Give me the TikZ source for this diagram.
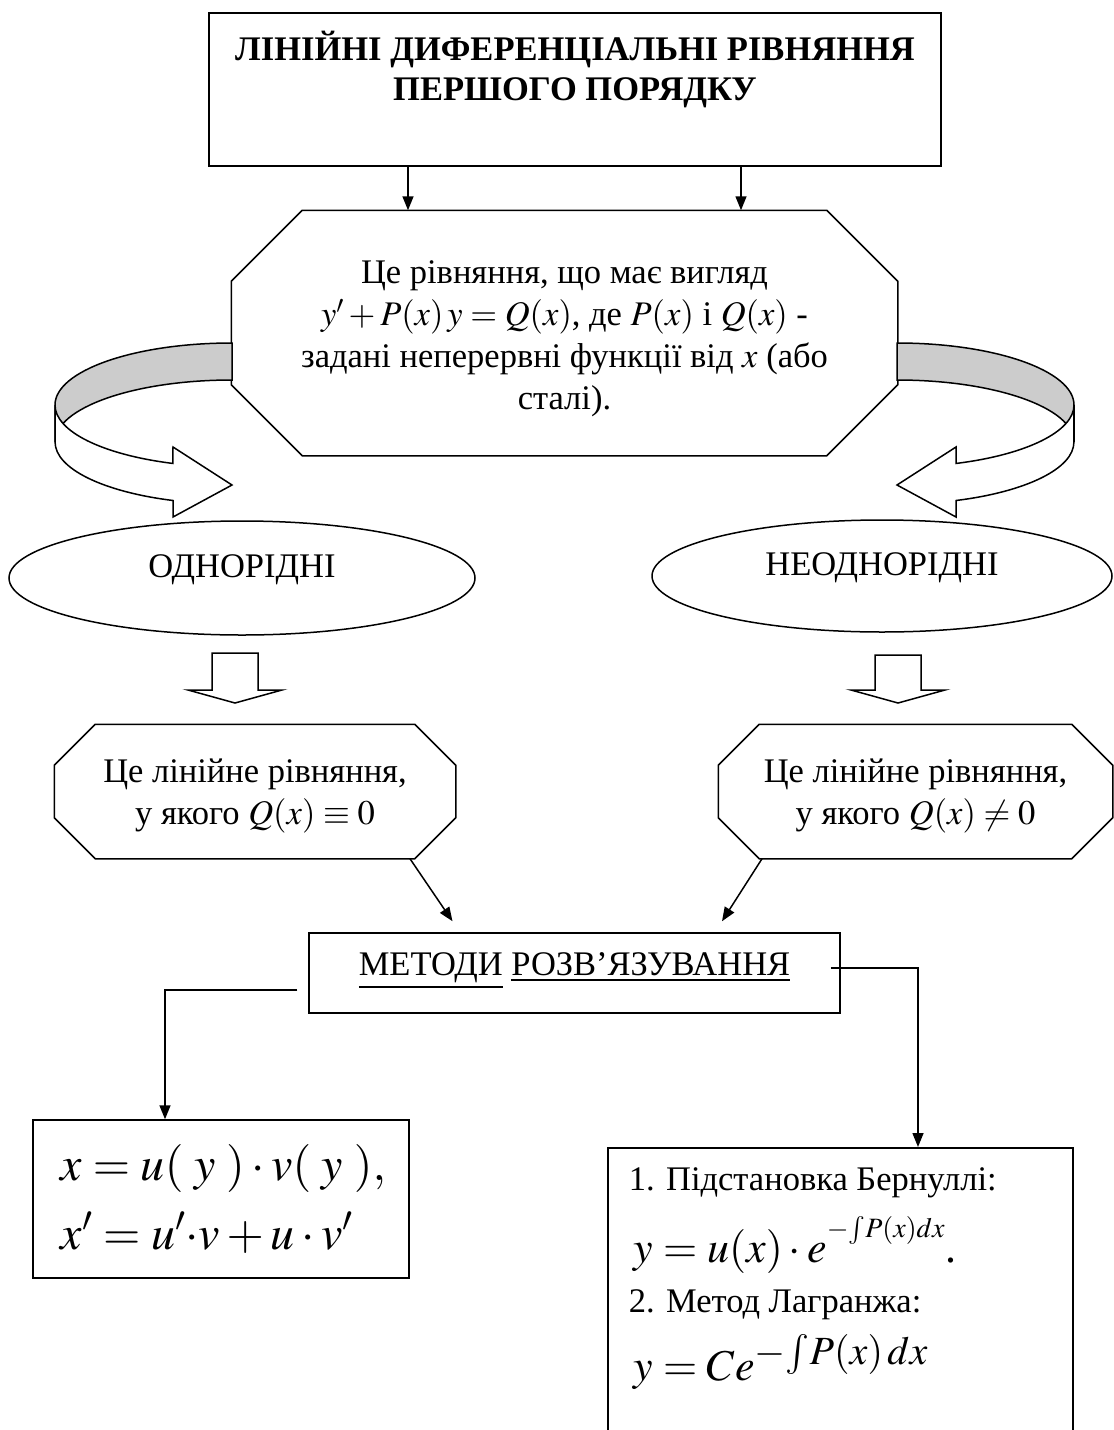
\documentclass[tikz,border=0pt]{standalone}
\usepackage{mathptmx}
\usepackage{fontspec}
\setmainfont{Liberation Serif}
\usetikzlibrary{shapes.geometric,arrows.meta}
\definecolor{RibbonGray}{HTML}{CCCCCC}

\begin{document}
\begin{tikzpicture}[x=1pt,y=1pt,line width=1.5pt,
  txt/.style={font=\fontsize{34.5}{42}\selectfont,align=center,inner sep=0pt},
  frame/.style={draw,rectangle,inner sep=0pt},
  formula/.style={anchor=base west,inner sep=0pt},
  arr/.style={-{Triangle[length=14pt,width=11pt]}}]
\path[use as bounding box,fill=white] (0,0) rectangle (1114,-1430);
\clip (0,0) rectangle (1114,-1430);

% heading box, text sits in its upper half
\node[frame,minimum width=732,minimum height=153] (titlebox) at (575,-89.5) {};
\node[txt,font=\fontsize{34.5}{40}\selectfont\bfseries,anchor=north] (title) at (575,-30) {ЛІНІЙНІ ДИФЕРЕНЦІАЛЬНІ РІВНЯННЯ\\ПЕРШОГО ПОРЯДКУ};

% definition and the two kinds
\node[txt,minimum width=665,minimum height=244] (def) at (564.5,-333) {};
\node[txt] (deftext) at (564.5,-339) {Це рівняння, що має вигляд\\$y'+P(x)\,y=Q(x)$, де $P(x)$ і $Q(x)$ -\\задані неперервні функції від $x$ (або\\сталі).};
\node[txt,draw,ellipse,text depth=24pt,minimum width=466,minimum height=114] (odn) at (242,-578) {ОДНОРІДНІ};
\node[txt,draw,ellipse,text depth=24pt,minimum width=460,minimum height=112] (neodn) at (882,-576) {НЕОДНОРІДНІ};
\node[txt,minimum width=400,minimum height=133] (lin0) at (255,-791.5) {};
\node[txt,minimum width=393,minimum height=133] (lin1) at (915.5,-791.5) {};
\node[txt] (lin0text) at (255,-796) {Це лінійне рівняння,\\у якого $Q(x)\equiv0$};
\node[txt] (lin1text) at (915.5,-796) {Це лінійне рівняння,\\у якого $Q(x)\neq0$};
\foreach \n/\c in {def/71,lin0/41,lin1/41}
  \draw ([xshift=\c]\n.north west) -- ([xshift=-\c]\n.north east) -- ([yshift=-\c]\n.north east) -- ([yshift=\c]\n.south east) -- ([xshift=-\c]\n.south east) -- ([xshift=\c]\n.south west) -- ([yshift=\c]\n.south west) -- ([yshift=-\c]\n.north west) -- cycle;

% ribbon arrows round the definition, right one mirrored
\foreach \cx/\s in {232/1,897/-1}{
  \begin{scope}[shift={(\cx,0)},xscale=\s]
    \filldraw[fill=RibbonGray] (0,-343) arc[start angle=90,end angle=180,x radius=177,y radius=62] -- (-177,-442) arc[start angle=180,end angle=90,x radius=177,y radius=62] -- cycle;
    \filldraw[fill=white] (-177,-405) arc[start angle=180,end angle=250.5,x radius=177,y radius=62] -- (-59,-447) -- (0,-485) -- (-59,-517) -- (-59,-500.5) arc[start angle=250.5,end angle=180,x radius=177,y radius=62] -- cycle;
  \end{scope}
}

% hollow arrows under the ellipses
\foreach \cx/\ty in {235/653,898/655}
  \draw (\cx-23,-\ty) -- (\cx+23,-\ty) -- (\cx+23,-690) -- (\cx+47,-690) -- (\cx,-703) -- (\cx-47,-690) -- (\cx-23,-690) -- cycle;

% methods
\node[frame,minimum width=531,minimum height=80] (metody) at (574.5,-973) {};
\node[txt,anchor=base] (metodytext) at (574.5,-975) {\underline{МЕТОДИ} \underline{РОЗВ’ЯЗУВАННЯ}};

\node[frame,minimum width=376,minimum height=158] (form1) at (221,-1199) {};
\node[formula,font=\fontsize{48}{48}\selectfont] (f1a) at (60,-1180) {$x=u(\;y\;)\cdot v(\;y\;),$};
\node[formula,font=\fontsize{48}{48}\selectfont] (f1b) at (60,-1249) {$x'=u'{\cdot}v+u\cdot v'$};

\node[frame,minimum width=465,minimum height=320,anchor=north] (form2) at (840.5,-1147) {};
\node[txt,anchor=base west] (bern) at (628,-1190) {1. Підстановка Бернуллі:};
\node[formula,font=\fontsize{44}{44}\selectfont] (bernf) at (633,-1262) {$y=u(x)\cdot e^{\raisebox{9pt}{\fontsize{28}{28}\selectfont$-\!\int\! P(x)dx$}}$.};
\node[txt,anchor=base west] (lagr) at (628,-1312) {2. Метод Лагранжа:};
\node[formula,font=\fontsize{44}{44}\selectfont] (lagrf) at (633,-1380) {$y=Ce^{\mbox{\fontsize{40}{40}\selectfont$-\!\int\! P(x)\,dx$}}$};

% connectors
\coordinate (tl) at ([xshift=-167]titlebox.south);
\coordinate (tr) at ([xshift=166]titlebox.south);
\draw[arr] (tl) -- (tl |- def.north);
\draw[arr] (tr) -- (tr |- def.north);
\draw[arr] ([xshift=155]lin0.south) -- ([xshift=-122,yshift=11]metody.north);
\draw[arr] ([xshift=-153.5]lin1.south) -- ([xshift=147.5,yshift=11]metody.north);
\draw[arr] ([xshift=-11,yshift=-17]metody.west) -| ([xshift=-56]form1.north);
\draw[arr] ([xshift=-10,yshift=5]metody.east) -| ([xshift=77.5]form2.north);
\end{tikzpicture}
\end{document}
